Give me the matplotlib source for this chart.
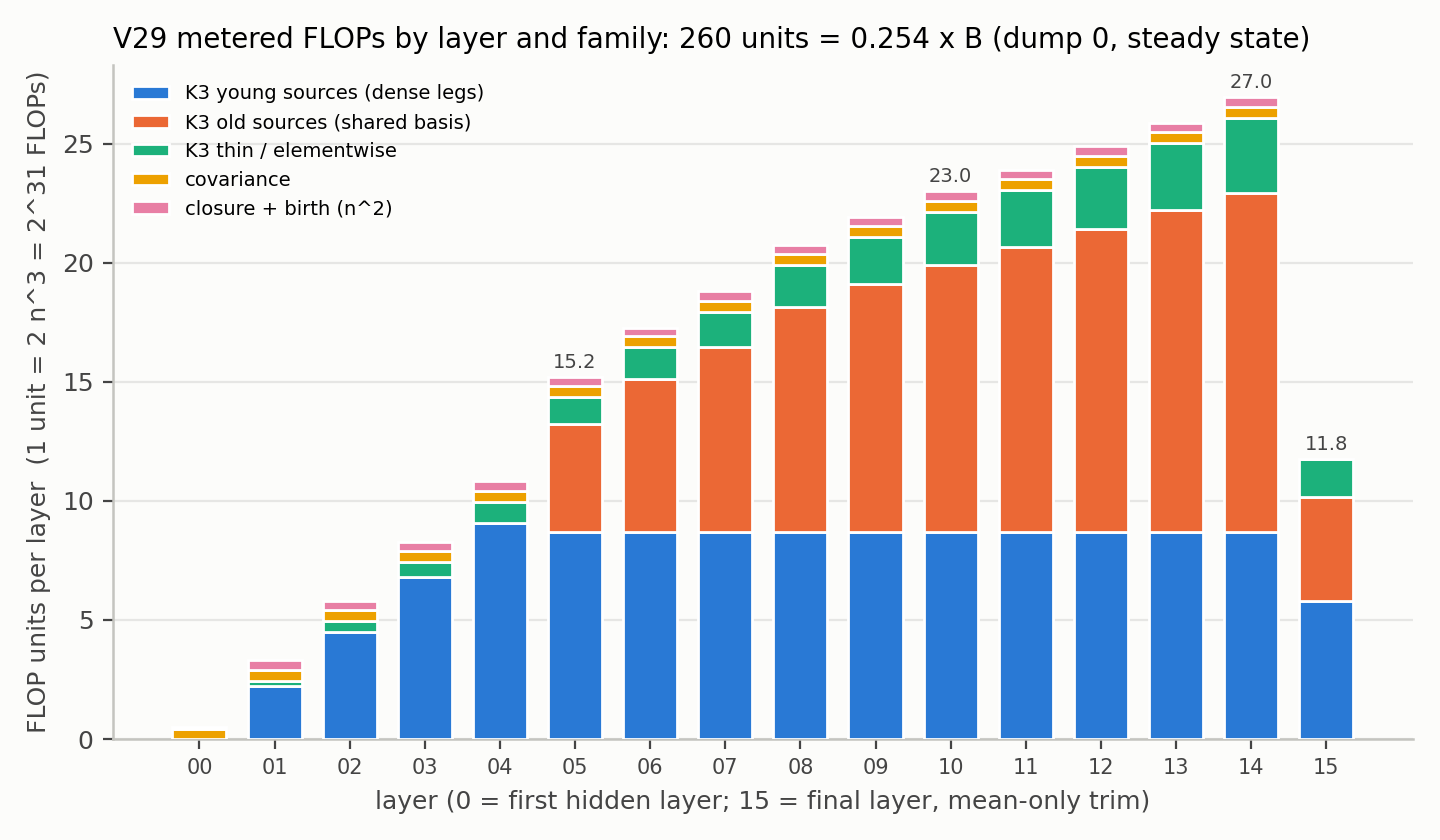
import numpy as np
import matplotlib
matplotlib.use("Agg")
import matplotlib.pyplot as plt

layers = ["00", "01", "02", "03", "04", "05", "06", "07", "08", "09",
          "10", "11", "12", "13", "14", "15"]

k3_young = [0.0, 2.24, 4.48, 6.80, 9.07, 8.70, 8.70, 8.70, 8.70, 8.70,
            8.70, 8.70, 8.70, 8.70, 8.70, 5.80]
k3_old = [0.0, 0.0, 0.0, 0.0, 0.0, 4.53, 6.43, 7.77, 9.45, 10.42,
          11.22, 11.97, 12.73, 13.53, 14.23, 4.37]
k3_thin = [0.0, 0.20, 0.46, 0.63, 0.88, 1.14, 1.34, 1.47, 1.77, 1.97,
           2.22, 2.40, 2.60, 2.81, 3.15, 1.60]
covariance = [0.42, 0.46, 0.46, 0.46, 0.48, 0.46, 0.46, 0.46, 0.46, 0.46,
              0.46, 0.46, 0.46, 0.46, 0.46, 0.0]
closure = [0.08, 0.42, 0.39, 0.40, 0.40, 0.37, 0.34, 0.42, 0.38, 0.38,
           0.40, 0.37, 0.40, 0.38, 0.42, 0.0]

families = [
    ("K3 young sources (dense legs)", k3_young, "#2979d5"),
    ("K3 old sources (shared basis)", k3_old, "#eb6835"),
    ("K3 thin / elementwise", k3_thin, "#1cb17b"),
    ("covariance", covariance, "#eda100"),
    ("closure + birth (n^2)", closure, "#e87fa5"),
]

# bars that get a total on top
labelled = ["05", "10", "14", "15"]

bg = "#fcfcfa"
fig = plt.figure(figsize=(7.2, 4.2), dpi=200, facecolor=bg)
ax = fig.add_axes([0.0785, 0.1202, 0.9025, 0.8024], facecolor=bg)

x = np.arange(len(layers))
bottom = np.zeros(len(layers))
for name, vals, col in families:
    vals = np.array(vals)
    ax.bar(x, vals, 0.72, bottom=bottom, color=col, edgecolor="white",
           linewidth=1.0, label=name, zorder=3)
    bottom = bottom + vals

totals = bottom
for i, lab in enumerate(layers):
    if lab in labelled:
        ax.text(x[i], totals[i] + 0.22, "%.1f" % totals[i], ha="center",
                va="bottom", fontsize=7, color="#444444")

ax.set_xlim(-1.15, 16.15)
ax.set_ylim(0, totals.max() * 1.05)
ax.set_xticks(x)
ax.set_xticklabels(layers, fontsize=7.5, color="#444444")
ax.set_yticks([0, 5, 10, 15, 20, 25])
ax.tick_params(axis="y", labelsize=9, colors="#444444")
ax.tick_params(axis="x", colors="#444444")
ax.grid(axis="y", color="#e6e6e4", linewidth=0.8, zorder=0)
ax.set_axisbelow(True)

for s in ["top", "right"]:
    ax.spines[s].set_visible(False)
for s in ["left", "bottom"]:
    ax.spines[s].set_color("#c4c4bf")
    ax.spines[s].set_linewidth(0.9)

ax.set_title("V29 metered FLOPs by layer and family: 260 units = 0.254 x B (dump 0, steady state)",
             fontsize=10, loc="left", x=0.0, pad=6)
ax.set_xlabel("layer (0 = first hidden layer; 15 = final layer, mean-only trim)",
              fontsize=9, color="#444444")
ax.set_ylabel("FLOP units per layer  (1 unit = 2 n^3 = 2^31 FLOPs)",
              fontsize=9, color="#444444")

ax.legend(loc="upper left", fontsize=7, frameon=False, handlelength=1.9,
          handleheight=0.6, handletextpad=0.8, labelspacing=0.5,
          borderaxespad=0.6)

fig.savefig("out.png", dpi=200, facecolor=bg)
